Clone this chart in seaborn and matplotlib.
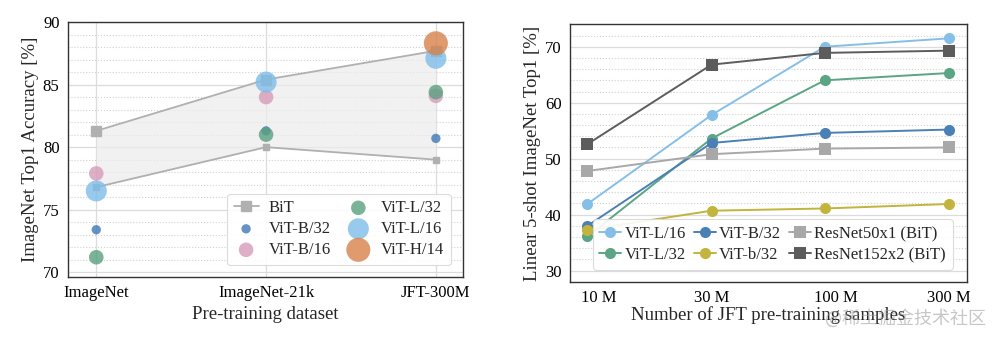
import numpy as np
import pandas as pd
import matplotlib
matplotlib.use("Agg")
import matplotlib.pyplot as plt
from matplotlib.ticker import MultipleLocator, FixedLocator, NullFormatter, LogLocator
import seaborn as sns

# ---------------- data: left panel ----------------
datasets = ["ImageNet", "ImageNet-21k", "JFT-300M"]
bit_upper = [81.3, 85.4, 87.7]
bit_lower = [76.8, 80.0, 79.0]
vit_b32 = [73.4, 81.3, 80.7]
vit_b16 = [77.9, 84.0, 84.1]
vit_l32 = [71.2, 81.0, 84.4]
vit_l16 = [76.5, 85.2, 87.1]
vit_h14 = [None, None, 88.3]

# ---------------- data: right panel ----------------
samples_m = [9, 30, 90, 300]
fs_vit_l16 = [41.9, 57.8, 70.0, 71.5]
fs_vit_l32 = [36.1, 53.6, 64.0, 65.3]
fs_vit_B32 = [38.0, 52.8, 54.6, 55.2]
fs_vit_b32 = [37.3, 40.7, 41.1, 41.9]
fs_r50 = [47.8, 50.8, 51.8, 52.0]
fs_r152 = [52.6, 66.8, 68.9, 69.3]
xtick_vals = [10, 30, 100, 300]
xtick_labels = ["10 M", "30 M", "100 M", "300 M"]

sns.set_theme(style="whitegrid")
plt.rcParams["font.family"] = ["Liberation Serif", "Noto Sans CJK SC"]
plt.rcParams["axes.edgecolor"] = "#333333"
plt.rcParams["axes.linewidth"] = 1.0

fig = plt.figure(figsize=(9.99, 3.42), dpi=100)
ax1 = fig.add_axes([0.068, 0.190, 0.3955, 0.7456])
ax2 = fig.add_axes([0.5706, 0.1754, 0.3974, 0.7544])

def style_ax(ax):
    for s in ax.spines.values():
        s.set_visible(True)
        s.set_color("#333333")
        s.set_linewidth(1.0)
    ax.tick_params(axis="both", which="major", direction="out", length=4, width=0.9,
                   color="#333333", labelsize=12, labelcolor="black", pad=2)
    ax.tick_params(axis="both", which="minor", direction="out", length=2.5, width=0.7,
                   color="#333333")
    ax.grid(True, which="major", color="#dcdcdc", linewidth=0.9, linestyle="-")
    ax.grid(True, which="minor", axis="y", color="#d0d0d0", linewidth=0.8, linestyle=":")
    ax.set_axisbelow(True)

# ---------------- left panel ----------------
idx = np.arange(len(datasets))
ax1.fill_between(idx, bit_lower, bit_upper, color="#ececec", alpha=0.7, linewidth=0, zorder=1)
ax1.plot(idx, bit_upper, color="#b0b0b0", lw=1.3, marker="s", ms=7.5, zorder=2, label="BiT")
ax1.plot(idx, bit_lower, color="#b0b0b0", lw=1.3, marker="s", ms=4.5, zorder=2)

vit_series = [
    ("ViT-B/32", vit_b32, "#3f78b5", 45),
    ("ViT-B/16", vit_b16, "#d79ab9", 110),
    ("ViT-L/32", vit_l32, "#5aa080", 110),
    ("ViT-L/16", vit_l16, "#7fbde9", 230),
    ("ViT-H/14", vit_h14, "#d7824a", 300),
]
for name, vals, col, sz in vit_series:
    df = pd.DataFrame({"x": idx, "y": vals}).dropna()
    sns.scatterplot(data=df, x="x", y="y", ax=ax1, color=col, s=sz, alpha=0.8,
                    edgecolor="none", label=name, zorder=3)

ax1.set_xlim(-0.167, 2.16)
ax1.set_ylim(69.62, 90)
ax1.set_xticks(idx)
ax1.set_xticklabels(datasets)
ax1.yaxis.set_major_locator(MultipleLocator(5))
ax1.yaxis.set_minor_locator(MultipleLocator(1))
style_ax(ax1)
ax1.set_xlabel("Pre-training dataset", fontsize=13.5, labelpad=3)
ax1.set_ylabel("ImageNet Top1 Accuracy [%]", fontsize=13.5, labelpad=3)

h, l = ax1.get_legend_handles_labels()
order = ["BiT", "ViT-B/32", "ViT-B/16", "ViT-L/32", "ViT-L/16", "ViT-H/14"]
hm = dict(zip(l, h))
leg1 = ax1.legend([hm[o] for o in order], order, ncol=2, loc="lower right",
                  fontsize=12, frameon=True, framealpha=0.9, edgecolor="#d8d8d8",
                  handlelength=1.5, columnspacing=0.9, borderpad=0.4,
                  labelspacing=0.3, handletextpad=0.6, bbox_to_anchor=(0.99, 0.015))
leg1.get_frame().set_linewidth(0.8)

# ---------------- right panel ----------------
lines_right = [
    ("ViT-L/16", fs_vit_l16, "#85bfe8", "o"),
    ("ViT-L/32", fs_vit_l32, "#5ba585", "o"),
    ("ViT-B/32", fs_vit_B32, "#4a80b6", "o"),
    ("ViT-b/32", fs_vit_b32, "#c2b43c", "o"),
    ("ResNet50x1 (BiT)", fs_r50, "#a8a8a8", "s"),
    ("ResNet152x2 (BiT)", fs_r152, "#5c5c5c", "s"),
]
for name, vals, col, mk in lines_right:
    df = pd.DataFrame({"x": samples_m, "y": vals})
    sns.lineplot(data=df, x="x", y="y", ax=ax2, color=col, marker=mk, markersize=8,
                 markeredgewidth=0, linewidth=1.4, label=name)

ax2.set_xscale("log")
ax2.set_xlim(7.6, 358)
ax2.set_ylim(27.96, 74.06)
ax2.xaxis.set_major_locator(FixedLocator(xtick_vals))
ax2.set_xticklabels(xtick_labels)
ax2.xaxis.set_minor_locator(LogLocator(base=10, subs=np.arange(2, 10)))
ax2.xaxis.set_minor_formatter(NullFormatter())
ax2.yaxis.set_major_locator(MultipleLocator(10))
ax2.yaxis.set_minor_locator(MultipleLocator(2))
style_ax(ax2)
ax2.grid(False, axis="x", which="both")
ax2.set_xlabel("Number of JFT pre-training samples", fontsize=13.5, labelpad=0)
ax2.set_ylabel("Linear 5-shot ImageNet Top1 [%]", fontsize=13.5, labelpad=3)

h2, l2 = ax2.get_legend_handles_labels()
leg2 = ax2.legend(h2, l2, ncol=3, loc="lower right", fontsize=12, frameon=True,
                  framealpha=0.9, edgecolor="#d8d8d8", handlelength=1.3,
                  columnspacing=0.5, handletextpad=0.2, borderpad=0.4,
                  labelspacing=0.3, bbox_to_anchor=(0.985, 0.015))
leg2.get_frame().set_linewidth(0.8)

fig.text(0.987, 0.07, "@稀土掘金技术社区", ha="right", va="center", fontsize=13,
         color="#9a9a9a", alpha=0.55, family=["Noto Sans CJK SC", "DejaVu Sans"])

fig.savefig("out.png", dpi=100)
